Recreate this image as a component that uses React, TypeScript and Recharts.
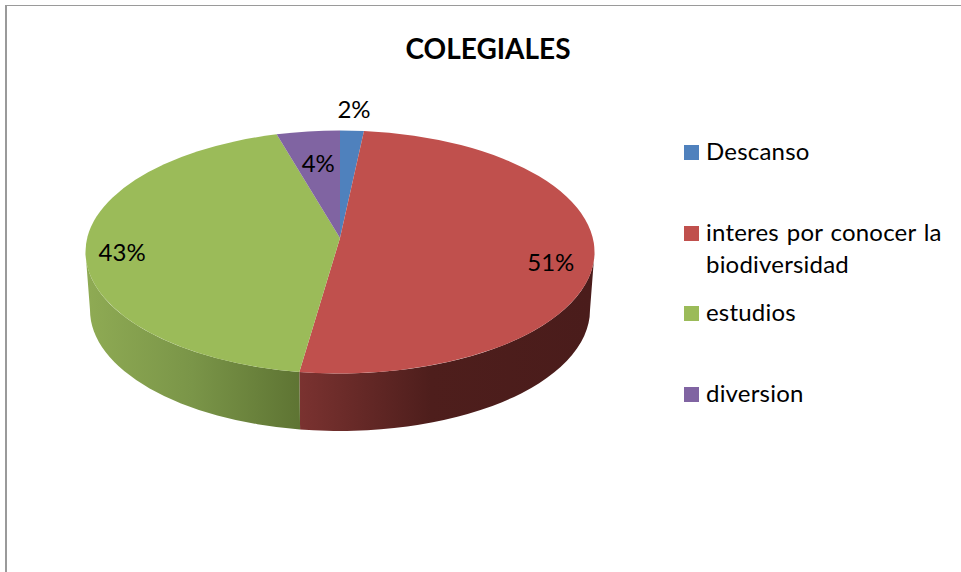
import { PieChart, Pie, Legend } from 'recharts';

const categories = ['Descanso', 'interes por conocer la biodiversidad', 'estudios', 'diversion'];
const shares = [1.5, 51, 43.4, 4];
const colors = ['#4F81BD', '#C0504D', '#9BBB59', '#8064A2'];
const wallFills = ['none', 'url(#wallRed)', 'url(#wallGreen)', 'none'];
// how far along the radius each percent label sits, and how much it is raised
const labelReach = [1.17, 0.835, 0.857, 0.68];
const labelLift = [2, 3, 5, 8];

const FONT = 'Lato, "Open Sans", sans-serif';
const CX = 340;
const CY = 252;
const RADIUS = 254.5;
const SQUASH = 121.5 / RADIUS;
const APEX_LIFT = 14;
const FLOOR = { rx: 250, ry: 121, cy: 310 };

const chartData = categories.map((name, i) => ({
  name,
  value: shares[i],
  fill: colors[i],
  wallFill: wallFills[i],
}));

const rad = (deg: number) => (deg * Math.PI) / 180;

// top face: sector on an ellipse, with the apex lifted for the perspective look
const TopSlice = (props: any) => {
  const { cx, cy, outerRadius, startAngle, endAngle, fill } = props;
  const ry = outerRadius * SQUASH;
  const x1 = cx + outerRadius * Math.cos(rad(startAngle));
  const y1 = cy - ry * Math.sin(rad(startAngle));
  const x2 = cx + outerRadius * Math.cos(rad(endAngle));
  const y2 = cy - ry * Math.sin(rad(endAngle));
  const large = startAngle - endAngle > 180 ? 1 : 0;
  return (
    <path
      d={`M${cx},${cy - APEX_LIFT} L${x1},${y1} A${outerRadius},${ry} 0 ${large} 1 ${x2},${y2} Z`}
      fill={fill}
    />
  );
};

// side wall: only the front half of the pie shows one
const WallSlice = (props: any) => {
  const { cx, cy, outerRadius, startAngle, endAngle, wallFill } = props;
  const hi = Math.min(startAngle, 0);
  const lo = Math.max(endAngle, -180);
  if (hi <= lo) return null;
  const ry = outerRadius * SQUASH;
  const x1 = cx + outerRadius * Math.cos(rad(hi));
  const y1 = cy - ry * Math.sin(rad(hi));
  const x2 = cx + outerRadius * Math.cos(rad(lo));
  const y2 = cy - ry * Math.sin(rad(lo));
  const fx1 = cx + FLOOR.rx * Math.cos(rad(hi));
  const fy1 = FLOOR.cy - FLOOR.ry * Math.sin(rad(hi));
  const fx2 = cx + FLOOR.rx * Math.cos(rad(lo));
  const fy2 = FLOOR.cy - FLOOR.ry * Math.sin(rad(lo));
  return (
    <path
      d={`M${x1},${y1} A${outerRadius},${ry} 0 0 1 ${x2},${y2} L${fx2},${fy2} A${FLOOR.rx},${FLOOR.ry} 0 0 0 ${fx1},${fy1} Z`}
      fill={wallFill}
    />
  );
};

const renderPercent = (props: any) => {
  const { cx, cy, outerRadius, midAngle, percent, index } = props;
  const reach = outerRadius * labelReach[index];
  const x = cx + reach * Math.cos(rad(midAngle));
  const y = cy - reach * SQUASH * Math.sin(rad(midAngle)) - labelLift[index];
  return (
    <text x={x} y={y} textAnchor="middle" dominantBaseline="central" fontFamily={FONT} fontSize={24} fill="#000">
      {`${Math.round(percent * 100)}%`}
    </text>
  );
};

const rowHeights = [81, 80, 81, 40];

// the payload comes back sorted and once per Pie, so list the categories directly
const renderLegend = () => (
  <div style={{ fontFamily: FONT, fontSize: 24, color: '#000', lineHeight: '32px', wordSpacing: 1.5, letterSpacing: 0.2 }}>
    {categories.map((name, i) => (
      <div key={name} style={{ display: 'flex', height: rowHeights[i] }}>
        <span style={{ width: 15, height: 15, marginTop: 10, marginRight: 7, background: colors[i], flex: 'none' }} />
        <span style={{ width: 250 }}>{name}</span>
      </div>
    ))}
  </div>
);

export default function App() {
  return (
    <div style={{ position: 'fixed', left: 0, top: 0, width: 961, height: 572, background: '#fff', overflow: 'hidden' }}>
      <div
        style={{
          position: 'absolute',
          left: 5,
          top: 5,
          right: 0,
          bottom: 0,
          borderTop: '1.5px solid #9a9a9a',
          borderLeft: '2px solid #9a9a9a',
        }}
      />
      <PieChart width={961} height={572} margin={{ top: 0, right: 0, bottom: 0, left: 0 }}>
        <defs>
          <linearGradient id="wallGreen" gradientUnits="userSpaceOnUse" x1={85} y1={0} x2={300} y2={0}>
            <stop offset="0" stopColor="#8FAB54" />
            <stop offset="0.5" stopColor="#7A9548" />
            <stop offset="1" stopColor="#5E7433" />
          </linearGradient>
          <linearGradient id="wallRed" gradientUnits="userSpaceOnUse" x1={300} y1={0} x2={590} y2={0}>
            <stop offset="0" stopColor="#7A3230" />
            <stop offset="0.45" stopColor="#4E1E1C" />
            <stop offset="1" stopColor="#4A1C1B" />
          </linearGradient>
        </defs>
        <text x={488} y={48} textAnchor="middle" dominantBaseline="central" fontFamily={FONT} fontSize={28} fontWeight={700} fill="#000">
          COLEGIALES
        </text>
        <Pie
          data={chartData}
          dataKey="value"
          nameKey="name"
          cx={CX}
          cy={CY}
          outerRadius={RADIUS}
          startAngle={90}
          endAngle={-270}
          legendType="none"
          isAnimationActive={false}
          shape={WallSlice}
          inactiveShape={WallSlice}
          labelLine={false}
        />
        <Pie
          data={chartData}
          dataKey="value"
          nameKey="name"
          cx={CX}
          cy={CY}
          outerRadius={RADIUS}
          startAngle={90}
          endAngle={-270}
          isAnimationActive={false}
          shape={TopSlice}
          inactiveShape={TopSlice}
          label={renderPercent}
          labelLine={false}
        />
        <Legend
          layout="vertical"
          align="right"
          verticalAlign="top"
          content={renderLegend}
          wrapperStyle={{ left: 684, right: 'auto', top: 135, width: 277 }}
        />
      </PieChart>
    </div>
  );
}
